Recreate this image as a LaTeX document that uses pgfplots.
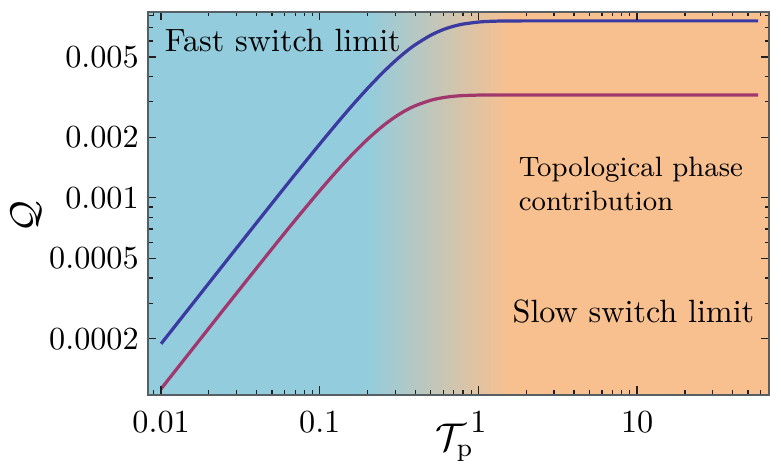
\documentclass[border=0pt]{standalone}
\usepackage{pgfplots}
\pgfplotsset{compat=1.18}
\usepackage{pgfplotstable}
\definecolor{bgblue}{RGB}{147,204,221}
\definecolor{bgorange}{RGB}{249,192,143}
\definecolor{lineblue}{RGB}{58,58,160}
\definecolor{linered}{RGB}{160,56,110}
\definecolor{framegray}{RGB}{85,95,100}

\pgfplotstableread{
T Q
0.01 0.0001887
0.02 0.0003772
0.03 0.0005652
0.05 0.0009388
0.07 0.001308
0.1 0.001849
0.13 0.002371
0.16 0.002869
0.2 0.003489
0.25 0.004187
0.3 0.004795
0.35 0.005315
0.4 0.005750
0.5 0.006405
0.6 0.006834
0.7 0.007107
0.8 0.007278
1.0 0.007449
1.2 0.007513
1.5 0.007542
2 0.007549
3 0.00755
5 0.00755
10 0.00755
20 0.00755
58 0.00755
}\bluedata

\pgfplotstableread{
T Q
0.01 0.0001128
0.02 0.0002254
0.03 0.0003374
0.05 0.0005588
0.07 0.000775
0.1 0.001085
0.13 0.001375
0.16 0.001640
0.2 0.001952
0.25 0.002274
0.3 0.002527
0.35 0.002720
0.4 0.002864
0.5 0.003047
0.6 0.003142
0.7 0.003191
0.8 0.003216
1.0 0.003234
1.2 0.003238
1.5 0.00324
2 0.00324
3 0.00324
5 0.00324
10 0.00324
20 0.00324
58 0.00324
}\reddata

\begin{document}
\begin{tikzpicture}
\begin{axis}[
  name=ax,
  scale only axis,
  width=192.9pt, height=118.9pt,
  xmode=log, ymode=log,
  xmin=0.00828, xmax=67.9,
  ymin=0.0001055, ymax=0.008361,
  axis on top,
  axis line style={framegray, line width=0.5pt},
  every tick/.style={gray!25!black, line width=0.4pt},
  major tick length=2.6pt,
  minor tick length=1.4pt,
  tick align=inside,
  xtick={0.01,0.1,1,10},
  xticklabels={$0.01$,$0.1$,$1$,$10$},
  minor xtick={0.009,0.02,0.03,0.04,0.05,0.06,0.07,0.08,0.09,0.2,0.3,0.4,0.5,0.6,0.7,0.8,0.9,2,3,4,5,6,7,8,9,20,30,40,50,60},
  ytick={0.0002,0.0005,0.001,0.002,0.005},
  yticklabels={$0.0002$,$0.0005$,$0.001$,$0.002$,$0.005$},
  minor ytick={0.0003,0.0004,0.0006,0.0007,0.0008,0.0009,0.003,0.004,0.006,0.007,0.008},
  xticklabel style={yshift=-1.8pt},
  yticklabel style={xshift=0.6pt},
  xlabel={$\mathcal{T}_{\mathrm{p}}$},
  ylabel={$\mathcal{Q}$},
  every axis x label/.style={at={(axis description cs:0.494,-0.126)}, anchor=center, font=\large},
  every axis y label/.style={at={(axis description cs:-0.197,0.465)}, anchor=center, rotate=90, inner sep=0pt, font=\large},
]
\fill[bgblue] (axis cs:0.005,0.00005) rectangle (axis cs:0.2,0.02);
\fill[left color=bgblue, right color=bgorange] (axis cs:0.2,0.00005) rectangle (axis cs:1.6,0.02);
\fill[bgorange] (axis cs:1.6,0.00005) rectangle (axis cs:100,0.02);

\addplot[lineblue, line width=1pt, smooth, no markers] table[x=T,y=Q] {\bluedata};
\addplot[linered, line width=1pt, smooth, no markers] table[x=T,y=Q] {\reddata};

\node[anchor=base west, inner sep=0pt] at (axis description cs:0.0258,0.8956) {Fast switch limit};
\node[anchor=base west, inner sep=0pt, font=\fontsize{8.7}{10.5}\selectfont] at (axis description cs:0.596,0.569) {Topological phase};
\node[anchor=base west, inner sep=0pt, font=\fontsize{8.7}{10.5}\selectfont] at (axis description cs:0.596,0.480) {contribution};
\node[anchor=base west, inner sep=0pt] at (axis description cs:0.586,0.188) {Slow switch limit};
\end{axis}
\pgfresetboundingbox
\useasboundingbox ([xshift=-46pt,yshift=-24.5pt]ax.south west) rectangle ([xshift=3.7pt,yshift=3.7pt]ax.north east);
\end{tikzpicture}
\end{document}
